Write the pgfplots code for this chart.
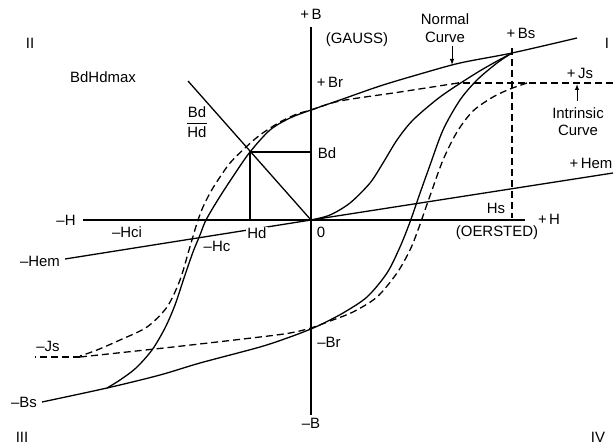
\documentclass[border=0pt]{standalone}
\usepackage{fontspec}
\setmainfont{Liberation Sans}
\usepackage{pgfplots}
\pgfplotsset{compat=1.18}
\usetikzlibrary{arrows.meta}
\begin{document}
\begin{tikzpicture}[font=\fontsize{15}{18}\selectfont]
\begin{axis}[hide axis, scale only axis, width=615bp, height=444bp,
  xmin=0, xmax=615, ymin=0, ymax=444, y dir=reverse, clip=false,
  cycle list={{black,solid,no markers}},
  every axis plot/.append style={line width=1.3bp, black, no markers},
  dsh/.style={dash pattern=on 7bp off 4bp}]
% frame for bounding box
\addplot[draw=none] coordinates {(0,0) (615,444)};
% axes
\addplot[black] coordinates {(311,27) (311,415)};
\addplot[black] coordinates {(83,220) (525,220)};
% Hem line
\addplot[black] coordinates {(65,259) (311,220) (613,173)};
% Bd/Hd line
\addplot[black] coordinates {(188,81) (311,220)};
% Bd Hd construction
\addplot[black, line width=1.1bp] coordinates {(311,152) (250,152) (250,220)};
% upper normal branch
\addplot[black, smooth, tension=0.5] coordinates {(577,38) (512,53) (460,63) (420,74) (380,86) (340,100) (311,110) (290,118) (270,130) (250,152) (234,175) (219,198) (206,220) (200,235) (193,252) (184,278) (175,305) (165,328) (152,350) (136,368) (120,380) (107,388)};
% lower normal branch
\addplot[black, smooth, tension=0.5] coordinates {(42,402) (107,388) (160,375) (200,363) (260,347) (290,337) (311,329) (320,325) (343,313) (367,297) (387,273) (400,247) (410,222) (419,196) (429,168) (443,130) (460,100) (477,80) (497,63) (512,53)};
% initial magnetization curve
\addplot[black, smooth, tension=0.5] coordinates {(311,220) (330,215) (350,203) (370,183) (383,163) (397,140) (413,120) (440,97) (470,77) (490,65) (512,53)};
% intrinsic curve upper
\addplot[black, dsh] coordinates {(613,83) (458,83)};
\addplot[black, dsh, smooth, tension=0.5] coordinates {(458,83) (400,92) (340,101) (311,110) (297,114) (280,122) (260,135) (245,148) (230,163) (218,180) (210,193) (203,207) (198,220) (194,233) (189,250) (180,280) (167,307) (147,327) (120,340) (97,350) (80,356)};
\addplot[black, dsh] coordinates {(80,357) (35,357)};
% intrinsic curve lower
\addplot[black, dsh, smooth, tension=0.5] coordinates {(80,357) (173,347) (260,337) (290,333) (311,328) (330,321) (353,312) (377,297) (397,273) (410,250) (418,230) (425,210) (431,193) (443,160) (457,132) (473,111) (493,97) (510,89) (527,83)};
% Hs dashed vertical
\addplot[black, dsh] coordinates {(512,48) (512,218)};
% arrows
\addplot[black, line width=1bp, -{Latex[length=6bp,width=4.5bp]}] coordinates {(452,46) (452,65)};
\addplot[black, line width=1bp, -{Latex[length=6bp,width=4.5bp]}] coordinates {(577,101) (577,84)};
% labels
\begin{scope}[every node/.style={inner sep=0pt}]
\node at (axis cs:311,14) {+\,B};
\node at (axis cs:311,423) {–B};
\node at (axis cs:66,220) {–H};
\node at (axis cs:549,219) {+\,H};
\node at (axis cs:321,232) {0};
\node at (axis cs:30,43) {II};
\node at (axis cs:607,43) {I};
\node at (axis cs:22,437) {III};
\node at (axis cs:598,437) {IV};
\node at (axis cs:103,77) {BdHdmax};
\node at (axis cs:357,40) {(GAUSS)};
\node at (axis cs:445,19) {Normal};
\node at (axis cs:445,37) {Curve};
\node at (axis cs:521,33) {+\,Bs};
\node at (axis cs:330,82) {+\,Br};
\node at (axis cs:580,73) {+\,Js};
\node at (axis cs:578,113) {Intrinsic};
\node at (axis cs:578,130) {Curve};
\node at (axis cs:591,163) {+\,Hem};
\node at (axis cs:496,208) {Hs};
\node at (axis cs:497,233) {(OERSTED)};
\node at (axis cs:327,153) {Bd};
\node at (axis cs:197,122) {$\displaystyle{\hbox{Bd}\over\hbox{Hd}}$};
\node at (axis cs:127,232) {–Hci};
\node[fill=white, inner sep=1bp] at (axis cs:257,233) {Hd};
\node at (axis cs:217,246) {–Hc};
\node at (axis cs:40,261) {–Hem};
\node at (axis cs:48,346) {–Js};
\node at (axis cs:24,402) {–Bs};
\node at (axis cs:329,342) {–Br};
\end{scope}
\end{axis}
\end{tikzpicture}
\end{document}
